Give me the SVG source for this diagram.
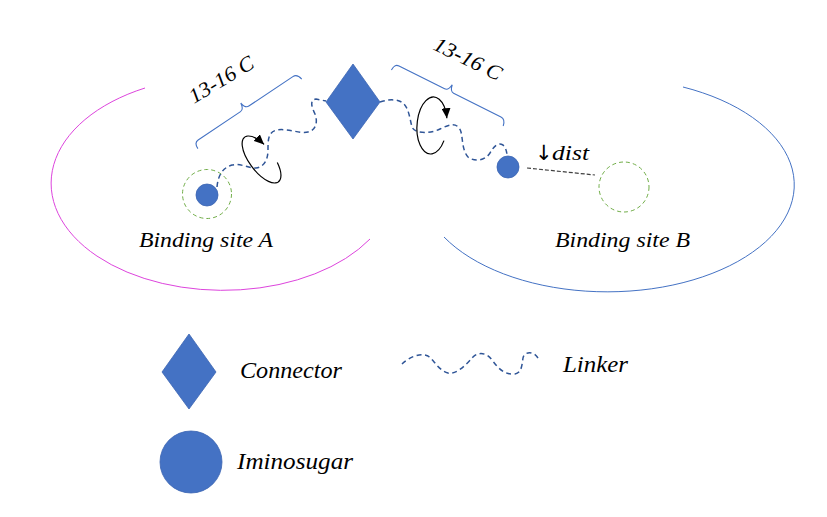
<svg xmlns="http://www.w3.org/2000/svg" width="827" height="517" viewBox="0 0 827 517">
<defs>
<style>
text{font-family:'Liberation Serif',serif;font-style:italic;fill:#000;}
.m{font-size:21px;}
.lg{font-size:24px;}
.blue{fill:#4472C4;stroke:#3B65B3;stroke-width:0.8;}
.linker{fill:none;stroke:#2F5597;stroke-width:1.5;stroke-dasharray:5 3.5;}
.site{fill:none;stroke:#70AD47;stroke-width:1;stroke-dasharray:4 3;}
.brace{fill:none;stroke:#4472C4;stroke-width:1.1;}
.rot{fill:none;stroke:#000;stroke-width:1.2;marker-end:url(#ah);}
</style>
<marker id="ah" markerUnits="userSpaceOnUse" markerWidth="11" markerHeight="9" refX="10" refY="4.5" orient="auto">
<path d="M0,0 L10,4.5 L0,9 z" fill="#000"/>
</marker>
</defs>
<rect width="827" height="517" fill="#fff"/>

<g id="pocket-A">
<path d="M145,88 A172,107 0 1 0 370,239" fill="none" stroke="#DD44DD" stroke-width="1"/>
<text class="m" x="139" y="247" textLength="134" lengthAdjust="spacingAndGlyphs">Binding site A</text>
</g>
<g id="pocket-B">
<path d="M683,87 A187,107 0 1 1 444,237" fill="none" stroke="#4472C4" stroke-width="1"/>
<text class="m" x="555" y="247" textLength="135" lengthAdjust="spacingAndGlyphs">Binding site B</text>
</g>

<g id="site-A"><circle class="site" cx="207" cy="194" r="24.5"/></g>
<g id="site-B"><circle class="site" cx="624" cy="187" r="25"/></g>

<g id="connectors">
<path class="linker" d="M217,187 C218,176 222,168 232,165 C240,163 248,168 256,168 C264,167 268,160 268,150 C268,140 268,132 277,130 C287,128 300,134 308,132 C316,130 318,122 315,114 C311,106 310,100 316,99 L326,101"/>
<path class="linker" d="M380,102 C386,100 396,98 403,103 C409,108 410,120 412,127 C415,134 430,134 440,129 C450,124 458,122 461,132 C463,140 462,150 468,157 C474,162 485,161 490,153 C494,146 498,142 503,145 C506,148 507,152 507,156"/>
<line x1="527" y1="168" x2="595" y2="175" stroke="#404040" stroke-width="1.2" stroke-dasharray="4 2"/>
</g>

<g id="rotation-left" transform="translate(261.5,159.5) rotate(53)">
<path class="rot" d="M11.83,-10.88 A28,12 0 1 1 -10.49,-11.13"/>
</g>
<g id="rotation-right" transform="translate(432,125.5) rotate(4)">
<path class="rot" d="M12.99,14.25 A15,28.5 0 1 1 14.34,-8.33"/>
</g>

<g id="brace-left" transform="translate(245.5,108.3) rotate(-33.8)">
<path class="brace" d="M-62,7 Q-62,0 -57,0 L-6,0 Q-2,0 -1,-7 Q0,0 4,0 L57,0 Q62,0 63,7"/>
</g>
<g id="brace-right" transform="translate(450,91.5) rotate(26.6)">
<path class="brace" d="M-62,7 Q-62,0 -57,0 L-6,0 Q-2,0 -1,-7 Q0,0 4,0 L57,0 Q62,0 63,7"/>
</g>
<g id="label-left"><text class="m" transform="translate(194,104) rotate(-31)" textLength="72" lengthAdjust="spacingAndGlyphs">13-16 C</text></g>
<g id="label-right"><text class="m" transform="translate(432,49) rotate(26)" textLength="73" lengthAdjust="spacingAndGlyphs">13-16 C</text></g>

<g id="connector"><polygon class="blue" points="353,64 380,102 353,139 326,102"/></g>
<g id="iminosugar-A"><circle class="blue" cx="207" cy="195" r="11"/></g>
<g id="iminosugar-B"><circle class="blue" cx="508" cy="167" r="11"/></g>

<g id="dist-label">
<text class="m" x="535" y="160"><tspan font-family="'DejaVu Sans',sans-serif" font-style="normal" font-size="21">↓</tspan><tspan x="552" textLength="37" lengthAdjust="spacingAndGlyphs">dist</tspan></text>
</g>

<g id="legend-connector">
<polygon class="blue" points="189,334 216,372 189,409 162,372"/>
<text class="lg" x="240" y="378" textLength="102" lengthAdjust="spacingAndGlyphs">Connector</text>
</g>
<g id="legend-linker">
<path class="linker" d="M402,364 C408,358 420,352 428,356 C434,360 438,370 448,373 C456,375 466,365 473,357 C478,352 486,352 492,360 C498,368 504,375 515,374 C522,373 522,364 523,358 C524,352 533,350 538,358"/>
<text class="lg" x="563" y="372" textLength="65" lengthAdjust="spacingAndGlyphs">Linker</text>
</g>
<g id="legend-iminosugar">
<circle class="blue" cx="191" cy="462" r="31"/>
<text class="lg" x="237" y="469" textLength="116" lengthAdjust="spacingAndGlyphs">Iminosugar</text>
</g>
</svg>
